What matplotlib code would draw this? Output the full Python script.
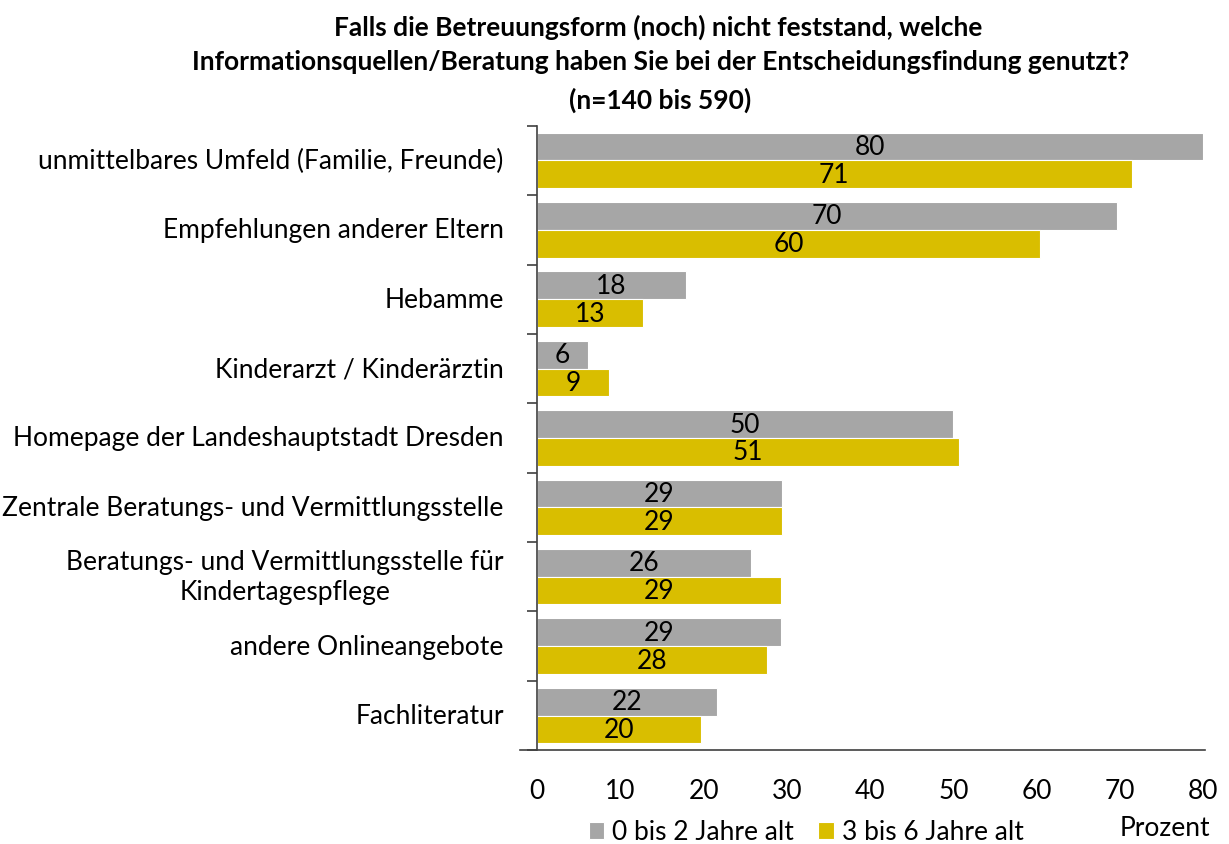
import matplotlib.pyplot as plt
import numpy as np

plt.rcParams['font.family'] = ['Lato', 'DejaVu Sans']

# categories, top to bottom
categories = [
    'unmittelbares Umfeld (Familie, Freunde)',
    'Empfehlungen anderer Eltern',
    'Hebamme',
    'Kinderarzt / Kinderärztin',
    'Homepage der Landeshauptstadt Dresden',
    'Zentrale Beratungs- und Vermittlungsstelle',
    'Beratungs- und Vermittlungsstelle für\nKindertagespflege',
    'andere Onlineangebote',
    'Fachliteratur',
]
age_0_2 = [80.0, 69.6, 17.9, 6.1, 50.0, 29.4, 25.7, 29.3, 21.6]
age_3_6 = [71.4, 60.4, 12.7, 8.6, 50.7, 29.4, 29.3, 27.6, 19.7]
series_names = ['0 bis 2 Jahre alt', '3 bis 6 Jahre alt']
x_ticks = [0, 10, 20, 30, 40, 50, 60, 70, 80]
title_lines = [
    'Falls die Betreuungsform (noch) nicht feststand, welche',
    'Informationsquellen/Beratung haben Sie bei der Entscheidungsfindung genutzt?',
    '(n=140 bis 590)',
]

gray = '#a6a6a6'
gold = '#d9be00'
fs = 19

fig = plt.figure(figsize=(12.29, 8.45), dpi=100)
ax = fig.add_axes([0.437, 0.111, 0.542, 0.739])

y = np.arange(len(categories))
h = 0.4
b1 = ax.barh(y - h / 2, age_0_2, height=h, color=gray, edgecolor='white',
             linewidth=0.8, label=series_names[0])
b2 = ax.barh(y + h / 2, age_3_6, height=h, color=gold, edgecolor='white',
             linewidth=0.8, label=series_names[1])

for bars, vals in ((b1, age_0_2), (b2, age_3_6)):
    for rect, v in zip(bars, vals):
        ax.text(rect.get_x() + rect.get_width() / 2,
                rect.get_y() + rect.get_height() / 2,
                f'{v:.0f}', ha='center', va='center', fontsize=fs,
                color='black')

ax.set_ylim(len(categories) - 0.5, -0.5)
ax.set_xlim(0, 80)

# category labels
ax.set_yticks(y)
ax.set_yticklabels([])
for yi, lab in zip(y, categories):
    ax.text(-4.0, yi, lab, ha='right', va='center', fontsize=fs,
            multialignment='center', linespacing=1.25)
ax.set_yticks(np.arange(len(categories) + 1) - 0.5, minor=True)
ax.tick_params(axis='y', which='major', length=0)
ax.tick_params(axis='y', which='minor', length=7, width=1.2, color='#404040')

ax.set_xticks(x_ticks)
ax.tick_params(axis='x', length=0, pad=20, labelsize=fs)

for s in ('top', 'right'):
    ax.spines[s].set_visible(False)
ax.spines['left'].set_color('#404040')
ax.spines['left'].set_linewidth(1.2)
ax.spines['bottom'].set_color('#404040')
ax.spines['bottom'].set_linewidth(1.2)
ax.spines['bottom'].set_bounds(-2.0, 80.2)
ax.spines['bottom'].set_clip_on(False)

# title lines
for (cx, cy), line in zip([(658, 27), (661, 62), (660, 100)], title_lines):
    fig.text(cx / 1229, 1 - cy / 845, line, ha='center', va='center',
             fontsize=fs, fontweight='bold')

fig.legend(handles=[b1, b2], labels=series_names, loc='center',
           bbox_to_anchor=(806 / 1229, 1 - 833 / 845), ncol=2, frameon=False,
           fontsize=fs, handlelength=0.6, handleheight=0.6, handletextpad=0.3,
           columnspacing=0.9, borderaxespad=0)

fig.text(1165 / 1229, 1 - 829 / 845, 'Prozent', ha='center', va='center',
         fontsize=fs)

fig.savefig('out.png', dpi=100)
